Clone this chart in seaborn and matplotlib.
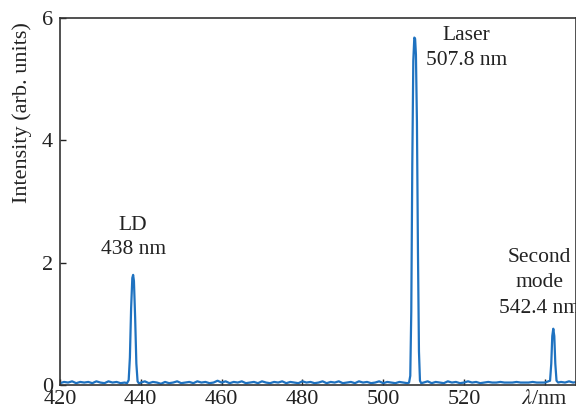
import numpy as np
import pandas as pd
import matplotlib
matplotlib.use("Agg")
import matplotlib.pyplot as plt
import seaborn as sns

# ---------------- data ----------------
base1_wl = list(range(420, 437))
base1_val = [0.03, 0.05, 0.04, 0.06, 0.03, 0.05, 0.04, 0.05, 0.03, 0.06,
             0.04, 0.03, 0.06, 0.04, 0.05, 0.03, 0.04]

ld_wl = [436.6, 437.0, 437.3, 437.6, 437.9, 438.1, 438.3, 438.6, 438.9,
         439.2, 439.6, 440.0]
ld_val = [0.03, 0.08, 0.45, 1.25, 1.75, 1.80, 1.70, 1.10, 0.35, 0.06, 0.02, 0.04]

base2_wl = list(range(441, 507))
base2_val = [0.06, 0.03, 0.05, 0.04, 0.02, 0.05, 0.03, 0.04, 0.06, 0.03,
             0.04, 0.05, 0.03, 0.06, 0.04, 0.05, 0.03, 0.04, 0.07, 0.04,
             0.06, 0.03, 0.05, 0.04, 0.06, 0.03, 0.04, 0.05, 0.03, 0.06,
             0.04, 0.03, 0.05, 0.04, 0.06, 0.03, 0.05, 0.04, 0.03, 0.06,
             0.04, 0.05, 0.03, 0.04, 0.06, 0.03, 0.05, 0.04, 0.06, 0.03,
             0.04, 0.05, 0.03, 0.06, 0.04, 0.05, 0.03, 0.04, 0.06, 0.03,
             0.05, 0.04, 0.03, 0.05, 0.04, 0.03]

laser_wl = [506.4, 506.7, 506.95, 507.2, 507.45, 507.7, 507.9, 508.1,
            508.35, 508.6, 508.85, 509.1, 509.4]
laser_val = [0.04, 0.15, 1.2, 3.6, 5.3, 5.68, 5.66, 5.4, 4.3, 2.2, 0.55, 0.07, 0.03]

base3_wl = list(range(510, 541))
base3_val = [0.04, 0.06, 0.03, 0.05, 0.04, 0.03, 0.06, 0.04, 0.05, 0.03,
             0.04, 0.06, 0.04, 0.05, 0.03, 0.04, 0.05, 0.04, 0.04, 0.05,
             0.04, 0.04, 0.04, 0.05, 0.04, 0.04, 0.04, 0.05, 0.04, 0.04, 0.04]

mode2_wl = [541.3, 541.6, 541.85, 542.1, 542.35, 542.6, 542.9, 543.3]
mode2_val = [0.07, 0.35, 0.80, 0.92, 0.80, 0.35, 0.07, 0.04]

base4_wl = [544, 545, 546, 547, 548]
base4_val = [0.05, 0.04, 0.06, 0.04, 0.05]

x_ticks = [420, 440, 460, 480, 500, 520, 540]
x_ticklabels = ["420", "440", "460", "480", "500", "520", r"$\lambda$/nm"]
y_ticks = [0, 2, 4, 6]

annotations = [
    (438.1, 2.60, "LD"), (438.1, 2.21, "438 nm"),
    (520.5, 5.72, "Laser"), (520.6, 5.31, "507.8 nm"),
    (538.7, 2.09, "Second"), (538.7, 1.68, "mode"), (538.7, 1.25, "542.4 nm"),
]

wl = base1_wl + ld_wl + base2_wl + laser_wl + base3_wl + mode2_wl + base4_wl
val = base1_val + ld_val + base2_val + laser_val + base3_val + mode2_val + base4_val
df = pd.DataFrame({"wl": wl, "val": val})

# ---------------- style ----------------
sns.set_style("ticks")
plt.rcParams["font.family"] = ["Liberation Serif", "DejaVu Serif"]
plt.rcParams["mathtext.fontset"] = "stix"

fig = plt.figure(figsize=(5.76, 4.09), dpi=100)
ax = fig.add_axes([60 / 576, 24 / 409, 516 / 576, 367 / 409])

sns.lineplot(data=df, x="wl", y="val", ax=ax, color="#1f72c0", linewidth=1.6,
             sort=False, estimator=None)

ax.set_xlim(420, 420 + 516 / 4.04)
ax.set_ylim(0, 6)
ax.set_xticks(x_ticks)
ax.set_xticklabels(x_ticklabels)
ax.set_yticks(y_ticks)
ax.tick_params(direction="in", length=4.5, width=1, colors="#222222",
               labelsize=16, labelcolor="#222222")
ax.tick_params(axis="x", pad=3.5)
ax.tick_params(axis="y", pad=5)
for s in ["top", "left", "bottom", "right"]:
    ax.spines[s].set_visible(True)
    ax.spines[s].set_color("#333333")
    ax.spines[s].set_linewidth(1.2)

ax.set_xlabel("")
ax.set_ylabel("Intensity (arb. units)", fontsize=16, color="#222222")
ax.yaxis.set_label_coords(-28 / 516, 0.742)

for x, y, t in annotations:
    ax.text(x, y, t, ha="center", va="center", fontsize=15.5, color="#222222",
            clip_on=False)

fig.savefig("out.png", dpi=100)
